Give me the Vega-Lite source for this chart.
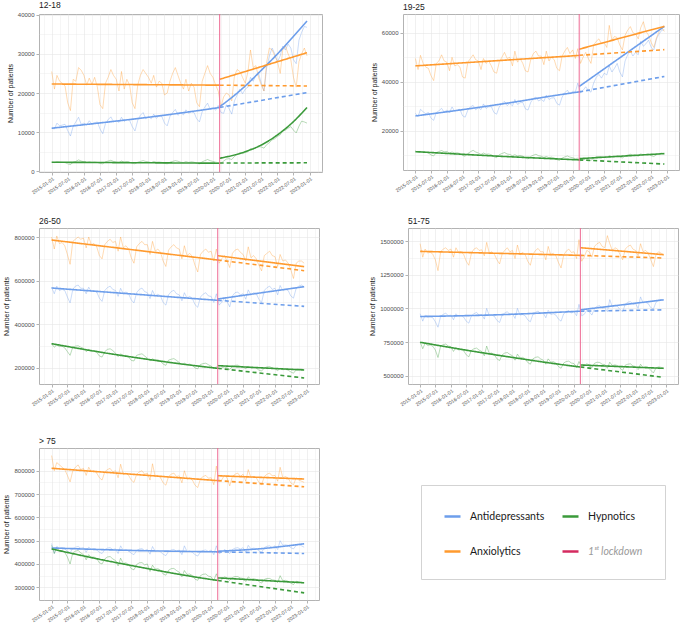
{"$schema":"https://vega.github.io/schema/vega-lite/v6.json","padding":{"left":2,"top":0,"right":2,"bottom":0},"background":"white",
"config":{"view":{"stroke":"#b3b3b3","strokeWidth":1},"axis":{"domain":false,"tickColor":"#b3b3b3","tickSize":3,"gridColor":"#e6e6e6","labelColor":"#4d4d4d","labelFont":"Liberation Sans","labelFontSize":6,"labelPadding":2,"labelOverlap":false,"titleFont":"Liberation Sans","titleFontSize":7,"titleFontWeight":"normal","titleColor":"#1a1a1a","titlePadding":4},"title":{"anchor":"start","frame":"group","font":"Liberation Sans","fontSize":8.5,"fontWeight":"normal","color":"#1a1a1a","offset":2}},
"datasets":{
"ld":[{"t":"2020-03-17"}],
"p1":[
{"t":"2015-01","A":11000,"X":25500,"H":2300},{"t":"2015-02","A":10800,"X":21000,"H":2200},{"t":"2015-03","A":12300,"X":24500,"H":2400},{"t":"2015-04","A":11600,"X":23000,"H":2300},{"t":"2015-05","A":11800,"X":22500,"H":2250},{"t":"2015-06","A":12000,"X":21800,"H":2200},{"t":"2015-07","A":10400,"X":17500,"H":1900},{"t":"2015-08","A":9000,"X":15500,"H":1700},{"t":"2015-09","A":11500,"X":23500,"H":2300},{"t":"2015-10","A":12600,"X":23000,"H":2500},{"t":"2015-11","A":13800,"X":26500,"H":2900},{"t":"2015-12","A":12000,"X":25800,"H":2600},
{"t":"2016-01","A":12300,"X":24500,"H":2400},{"t":"2016-02","A":11800,"X":22000,"H":2300},{"t":"2016-03","A":12900,"X":23800,"H":2450},{"t":"2016-04","A":12000,"X":22200,"H":2300},{"t":"2016-05","A":12400,"X":24000,"H":2350},{"t":"2016-06","A":12600,"X":21500,"H":2250},{"t":"2016-07","A":10800,"X":17000,"H":2000},{"t":"2016-08","A":9600,"X":16000,"H":1900},{"t":"2016-09","A":12200,"X":22500,"H":2400},{"t":"2016-10","A":13200,"X":24000,"H":2600},{"t":"2016-11","A":13900,"X":26000,"H":2800},{"t":"2016-12","A":12600,"X":24500,"H":2500},
{"t":"2017-01","A":13000,"X":23500,"H":2300},{"t":"2017-02","A":12500,"X":20500,"H":2200},{"t":"2017-03","A":13800,"X":25500,"H":2600},{"t":"2017-04","A":12700,"X":21000,"H":2300},{"t":"2017-05","A":13300,"X":23500,"H":2400},{"t":"2017-06","A":13000,"X":22000,"H":2300},{"t":"2017-07","A":11400,"X":17500,"H":2000},{"t":"2017-08","A":10300,"X":16000,"H":1900},{"t":"2017-09","A":13000,"X":22000,"H":2300},{"t":"2017-10","A":14300,"X":24500,"H":2500},{"t":"2017-11","A":15000,"X":26000,"H":2700},{"t":"2017-12","A":13400,"X":25000,"H":2500},
{"t":"2018-01","A":14000,"X":24000,"H":2400},{"t":"2018-02","A":13400,"X":22500,"H":2200},{"t":"2018-03","A":14600,"X":24500,"H":2500},{"t":"2018-04","A":13500,"X":21500,"H":2300},{"t":"2018-05","A":14200,"X":23000,"H":2350},{"t":"2018-06","A":14000,"X":22500,"H":2250},{"t":"2018-07","A":12300,"X":19500,"H":2000},{"t":"2018-08","A":11600,"X":20000,"H":1900},{"t":"2018-09","A":14000,"X":23000,"H":2300},{"t":"2018-10","A":15000,"X":25000,"H":2500},{"t":"2018-11","A":15800,"X":26500,"H":2700},{"t":"2018-12","A":14300,"X":24500,"H":2550},
{"t":"2019-01","A":15000,"X":22500,"H":2300},{"t":"2019-02","A":14400,"X":21000,"H":2200},{"t":"2019-03","A":15700,"X":23500,"H":2450},{"t":"2019-04","A":14800,"X":20500,"H":2250},{"t":"2019-05","A":15300,"X":22500,"H":2400},{"t":"2019-06","A":15000,"X":21500,"H":2300},{"t":"2019-07","A":13400,"X":17500,"H":2000},{"t":"2019-08","A":12600,"X":16500,"H":1900},{"t":"2019-09","A":15200,"X":23000,"H":2400},{"t":"2019-10","A":16400,"X":25000,"H":2700},{"t":"2019-11","A":17400,"X":27000,"H":3000},{"t":"2019-12","A":15800,"X":25000,"H":2700},
{"t":"2020-01","A":16200,"X":24000,"H":2500},{"t":"2020-02","A":15600,"X":22000,"H":2300},{"t":"2020-03","A":16800,"X":20500,"H":2200},{"t":"2020-04","A":15000,"X":16500,"H":2000},{"t":"2020-05","A":14800,"X":19000,"H":2600},{"t":"2020-06","A":17000,"X":20000,"H":3100},{"t":"2020-07","A":16000,"X":19500,"H":3200},{"t":"2020-08","A":14600,"X":18000,"H":3000},{"t":"2020-09","A":18000,"X":24500,"H":3800},{"t":"2020-10","A":19500,"X":26000,"H":4300},{"t":"2020-11","A":21000,"X":25500,"H":4600},{"t":"2020-12","A":19800,"X":24000,"H":4500},
{"t":"2021-01","A":21000,"X":22500,"H":4800},{"t":"2021-02","A":21500,"X":25500,"H":5000},{"t":"2021-03","A":24000,"X":31000,"H":5800},{"t":"2021-04","A":23000,"X":26500,"H":5600},{"t":"2021-05","A":24500,"X":27000,"H":6000},{"t":"2021-06","A":25000,"X":24000,"H":6300},{"t":"2021-07","A":22500,"X":22000,"H":6200},{"t":"2021-08","A":20500,"X":20500,"H":5900},{"t":"2021-09","A":26500,"X":28000,"H":6800},{"t":"2021-10","A":29500,"X":31500,"H":7300},{"t":"2021-11","A":31500,"X":31000,"H":8000},{"t":"2021-12","A":30000,"X":29500,"H":8300},
{"t":"2022-01","A":28000,"X":28000,"H":8900},{"t":"2022-02","A":29500,"X":25000,"H":9300},{"t":"2022-03","A":32000,"X":31000,"H":10300},{"t":"2022-04","A":31000,"X":32000,"H":10500},{"t":"2022-05","A":32500,"X":30000,"H":11000},{"t":"2022-06","A":31500,"X":28500,"H":11400},{"t":"2022-07","A":28500,"X":24000,"H":10500},{"t":"2022-08","A":27500,"X":21500,"H":9800},{"t":"2022-09","A":33500,"X":28000,"H":11500},{"t":"2022-10","A":35500,"X":30000,"H":12800},{"t":"2022-11","A":37000,"X":31500,"H":12600},{"t":"2022-12","A":36800,"X":29500,"H":12300}],
"p2":[
{"t":"2015-01","A":27200,"X":49500,"H":11800},{"t":"2015-02","A":25800,"X":45000,"H":11200},{"t":"2015-03","A":28800,"X":50800,"H":11600},{"t":"2015-04","A":27800,"X":47500,"H":11400},{"t":"2015-05","A":27000,"X":46000,"H":11300},{"t":"2015-06","A":27500,"X":45500,"H":11000},{"t":"2015-07","A":25200,"X":42500,"H":10200},{"t":"2015-08","A":24300,"X":40500,"H":9800},{"t":"2015-09","A":27500,"X":47500,"H":11200},{"t":"2015-10","A":28200,"X":48500,"H":11600},{"t":"2015-11","A":29200,"X":51000,"H":12000},{"t":"2015-12","A":27600,"X":48500,"H":11500},
{"t":"2016-01","A":28500,"X":48000,"H":11600},{"t":"2016-02","A":27400,"X":44500,"H":11000},{"t":"2016-03","A":29800,"X":50000,"H":11400},{"t":"2016-04","A":28000,"X":46500,"H":11000},{"t":"2016-05","A":28600,"X":47000,"H":11100},{"t":"2016-06","A":28800,"X":46000,"H":10800},{"t":"2016-07","A":26200,"X":42000,"H":10000},{"t":"2016-08","A":25600,"X":41500,"H":9700},{"t":"2016-09","A":28500,"X":48000,"H":10800},{"t":"2016-10","A":29800,"X":49500,"H":11500},{"t":"2016-11","A":30400,"X":51000,"H":12100},{"t":"2016-12","A":28600,"X":49000,"H":11400},
{"t":"2017-01","A":29500,"X":48500,"H":11000},{"t":"2017-02","A":28700,"X":45000,"H":10400},{"t":"2017-03","A":31000,"X":49500,"H":11000},{"t":"2017-04","A":29200,"X":47500,"H":10500},{"t":"2017-05","A":29800,"X":48500,"H":10600},{"t":"2017-06","A":29900,"X":46500,"H":10300},{"t":"2017-07","A":27500,"X":44000,"H":9500},{"t":"2017-08","A":26800,"X":43500,"H":9100},{"t":"2017-09","A":29800,"X":48000,"H":10300},{"t":"2017-10","A":31200,"X":50000,"H":10800},{"t":"2017-11","A":32000,"X":52000,"H":11200},{"t":"2017-12","A":30300,"X":49500,"H":10600},
{"t":"2018-01","A":31200,"X":50000,"H":10400},{"t":"2018-02","A":30200,"X":46500,"H":9900},{"t":"2018-03","A":32800,"X":52500,"H":10300},{"t":"2018-04","A":30800,"X":48000,"H":9800},{"t":"2018-05","A":31500,"X":49500,"H":10000},{"t":"2018-06","A":31600,"X":47500,"H":9700},{"t":"2018-07","A":29000,"X":44500,"H":9000},{"t":"2018-08","A":28500,"X":44000,"H":8600},{"t":"2018-09","A":31600,"X":49000,"H":9600},{"t":"2018-10","A":33200,"X":51500,"H":10100},{"t":"2018-11","A":33800,"X":52500,"H":10500},{"t":"2018-12","A":32200,"X":50500,"H":9900},
{"t":"2019-01","A":32800,"X":50500,"H":9700},{"t":"2019-02","A":32000,"X":47000,"H":9200},{"t":"2019-03","A":34600,"X":52500,"H":9600},{"t":"2019-04","A":32800,"X":48500,"H":9100},{"t":"2019-05","A":33400,"X":50000,"H":9300},{"t":"2019-06","A":33500,"X":49000,"H":9000},{"t":"2019-07","A":31200,"X":45500,"H":8300},{"t":"2019-08","A":30500,"X":44500,"H":8000},{"t":"2019-09","A":33800,"X":50500,"H":8900},{"t":"2019-10","A":35500,"X":52500,"H":9400},{"t":"2019-11","A":36600,"X":54000,"H":9800},{"t":"2019-12","A":35000,"X":51500,"H":9300},
{"t":"2020-01","A":36200,"X":53000,"H":9100},{"t":"2020-02","A":35800,"X":49500,"H":8700},{"t":"2020-03","A":39500,"X":53500,"H":8900},{"t":"2020-04","A":35500,"X":47500,"H":7800},{"t":"2020-05","A":36500,"X":50000,"H":8200},{"t":"2020-06","A":38000,"X":52000,"H":8600},{"t":"2020-07","A":36500,"X":49500,"H":8300},{"t":"2020-08","A":35800,"X":47500,"H":8000},{"t":"2020-09","A":39500,"X":55000,"H":8900},{"t":"2020-10","A":41800,"X":56500,"H":9400},{"t":"2020-11","A":43000,"X":57500,"H":9600},{"t":"2020-12","A":41500,"X":55500,"H":9300},
{"t":"2021-01","A":43500,"X":56000,"H":9300},{"t":"2021-02","A":42800,"X":54000,"H":9100},{"t":"2021-03","A":46500,"X":63000,"H":9900},{"t":"2021-04","A":44000,"X":57000,"H":9500},{"t":"2021-05","A":45500,"X":58500,"H":9600},{"t":"2021-06","A":47500,"X":58000,"H":9700},{"t":"2021-07","A":44000,"X":55000,"H":9300},{"t":"2021-08","A":42000,"X":53000,"H":9000},{"t":"2021-09","A":48500,"X":59000,"H":9800},{"t":"2021-10","A":51000,"X":61000,"H":10200},{"t":"2021-11","A":52500,"X":62500,"H":10500},{"t":"2021-12","A":50500,"X":60000,"H":10100},
{"t":"2022-01","A":52000,"X":59500,"H":10000},{"t":"2022-02","A":51000,"X":57500,"H":9700},{"t":"2022-03","A":56500,"X":62000,"H":10600},{"t":"2022-04","A":54500,"X":64500,"H":10300},{"t":"2022-05","A":55500,"X":60500,"H":10400},{"t":"2022-06","A":57000,"X":59000,"H":10500},{"t":"2022-07","A":54000,"X":56000,"H":9900},{"t":"2022-08","A":53000,"X":54000,"H":9600},{"t":"2022-09","A":57500,"X":58000,"H":10300},{"t":"2022-10","A":59500,"X":60500,"H":10700},{"t":"2022-11","A":61000,"X":62000,"H":11000},{"t":"2022-12","A":61200,"X":60500,"H":10700}],
"p3":[
{"t":"2015-01","A":570000,"X":800000,"H":312000},{"t":"2015-02","A":540000,"X":745000,"H":295000},{"t":"2015-03","A":575000,"X":805000,"H":305000},{"t":"2015-04","A":555000,"X":770000,"H":298000},{"t":"2015-05","A":560000,"X":775000,"H":300000},{"t":"2015-06","A":555000,"X":760000,"H":292000},{"t":"2015-07","A":525000,"X":720000,"H":275000},{"t":"2015-08","A":498000,"X":675000,"H":258000},{"t":"2015-09","A":560000,"X":780000,"H":296000},{"t":"2015-10","A":575000,"X":790000,"H":300000},{"t":"2015-11","A":580000,"X":800000,"H":302000},{"t":"2015-12","A":565000,"X":790000,"H":295000},
{"t":"2016-01","A":565000,"X":795000,"H":290000},{"t":"2016-02","A":540000,"X":750000,"H":275000},{"t":"2016-03","A":570000,"X":800000,"H":285000},{"t":"2016-04","A":550000,"X":765000,"H":278000},{"t":"2016-05","A":555000,"X":770000,"H":280000},{"t":"2016-06","A":548000,"X":755000,"H":272000},{"t":"2016-07","A":520000,"X":715000,"H":255000},{"t":"2016-08","A":505000,"X":700000,"H":250000},{"t":"2016-09","A":555000,"X":765000,"H":275000},{"t":"2016-10","A":568000,"X":780000,"H":285000},{"t":"2016-11","A":575000,"X":790000,"H":288000},{"t":"2016-12","A":560000,"X":775000,"H":280000},
{"t":"2017-01","A":555000,"X":780000,"H":268000},{"t":"2017-02","A":528000,"X":735000,"H":252000},{"t":"2017-03","A":565000,"X":800000,"H":265000},{"t":"2017-04","A":540000,"X":750000,"H":256000},{"t":"2017-05","A":548000,"X":760000,"H":258000},{"t":"2017-06","A":540000,"X":745000,"H":250000},{"t":"2017-07","A":512000,"X":705000,"H":235000},{"t":"2017-08","A":498000,"X":680000,"H":232000},{"t":"2017-09","A":545000,"X":755000,"H":258000},{"t":"2017-10","A":560000,"X":770000,"H":262000},{"t":"2017-11","A":566000,"X":780000,"H":265000},{"t":"2017-12","A":550000,"X":765000,"H":255000},
{"t":"2018-01","A":545000,"X":765000,"H":245000},{"t":"2018-02","A":518000,"X":720000,"H":232000},{"t":"2018-03","A":555000,"X":780000,"H":242000},{"t":"2018-04","A":530000,"X":735000,"H":235000},{"t":"2018-05","A":538000,"X":745000,"H":238000},{"t":"2018-06","A":530000,"X":730000,"H":230000},{"t":"2018-07","A":500000,"X":690000,"H":218000},{"t":"2018-08","A":488000,"X":665000,"H":212000},{"t":"2018-09","A":535000,"X":740000,"H":236000},{"t":"2018-10","A":550000,"X":755000,"H":240000},{"t":"2018-11","A":556000,"X":765000,"H":243000},{"t":"2018-12","A":540000,"X":750000,"H":235000},
{"t":"2019-01","A":535000,"X":745000,"H":225000},{"t":"2019-02","A":508000,"X":700000,"H":214000},{"t":"2019-03","A":545000,"X":760000,"H":222000},{"t":"2019-04","A":520000,"X":715000,"H":215000},{"t":"2019-05","A":528000,"X":725000,"H":218000},{"t":"2019-06","A":518000,"X":710000,"H":212000},{"t":"2019-07","A":490000,"X":670000,"H":200000},{"t":"2019-08","A":478000,"X":640000,"H":196000},{"t":"2019-09","A":525000,"X":720000,"H":216000},{"t":"2019-10","A":538000,"X":735000,"H":220000},{"t":"2019-11","A":545000,"X":745000,"H":222000},{"t":"2019-12","A":530000,"X":730000,"H":215000},
{"t":"2020-01","A":528000,"X":735000,"H":208000},{"t":"2020-02","A":500000,"X":690000,"H":198000},{"t":"2020-03","A":540000,"X":745000,"H":205000},{"t":"2020-04","A":488000,"X":680000,"H":195000},{"t":"2020-05","A":500000,"X":700000,"H":200000},{"t":"2020-06","A":520000,"X":715000,"H":205000},{"t":"2020-07","A":505000,"X":690000,"H":200000},{"t":"2020-08","A":480000,"X":660000,"H":193000},{"t":"2020-09","A":530000,"X":725000,"H":208000},{"t":"2020-10","A":545000,"X":740000,"H":212000},{"t":"2020-11","A":548000,"X":745000,"H":213000},{"t":"2020-12","A":535000,"X":730000,"H":208000},
{"t":"2021-01","A":540000,"X":720000,"H":205000},{"t":"2021-02","A":515000,"X":690000,"H":196000},{"t":"2021-03","A":558000,"X":755000,"H":208000},{"t":"2021-04","A":535000,"X":705000,"H":200000},{"t":"2021-05","A":545000,"X":715000,"H":202000},{"t":"2021-06","A":540000,"X":700000,"H":200000},{"t":"2021-07","A":515000,"X":670000,"H":190000},{"t":"2021-08","A":500000,"X":645000,"H":186000},{"t":"2021-09","A":555000,"X":715000,"H":200000},{"t":"2021-10","A":568000,"X":725000,"H":205000},{"t":"2021-11","A":575000,"X":735000,"H":206000},{"t":"2021-12","A":560000,"X":715000,"H":200000},
{"t":"2022-01","A":565000,"X":710000,"H":196000},{"t":"2022-02","A":535000,"X":665000,"H":188000},{"t":"2022-03","A":578000,"X":720000,"H":198000},{"t":"2022-04","A":555000,"X":690000,"H":192000},{"t":"2022-05","A":560000,"X":695000,"H":194000},{"t":"2022-06","A":555000,"X":680000,"H":190000},{"t":"2022-07","A":530000,"X":650000,"H":182000},{"t":"2022-08","A":520000,"X":610000,"H":176000},{"t":"2022-09","A":565000,"X":680000,"H":192000},{"t":"2022-10","A":575000,"X":690000,"H":196000},{"t":"2022-11","A":580000,"X":690000,"H":195000},{"t":"2022-12","A":572000,"X":680000,"H":192000}],
"p4":[
{"t":"2015-01","A":960000,"X":1480000,"H":750000},{"t":"2015-02","A":905000,"X":1380000,"H":700000},{"t":"2015-03","A":950000,"X":1440000,"H":740000},{"t":"2015-04","A":935000,"X":1410000,"H":725000},{"t":"2015-05","A":940000,"X":1420000,"H":728000},{"t":"2015-06","A":930000,"X":1400000,"H":718000},{"t":"2015-07","A":900000,"X":1360000,"H":690000},{"t":"2015-08","A":860000,"X":1280000,"H":635000},{"t":"2015-09","A":940000,"X":1420000,"H":720000},{"t":"2015-10","A":955000,"X":1440000,"H":730000},{"t":"2015-11","A":965000,"X":1450000,"H":735000},{"t":"2015-12","A":945000,"X":1430000,"H":720000},
{"t":"2016-01","A":950000,"X":1440000,"H":715000},{"t":"2016-02","A":915000,"X":1380000,"H":680000},{"t":"2016-03","A":960000,"X":1450000,"H":710000},{"t":"2016-04","A":940000,"X":1415000,"H":690000},{"t":"2016-05","A":945000,"X":1420000,"H":695000},{"t":"2016-06","A":935000,"X":1400000,"H":685000},{"t":"2016-07","A":905000,"X":1350000,"H":655000},{"t":"2016-08","A":890000,"X":1320000,"H":640000},{"t":"2016-09","A":945000,"X":1410000,"H":688000},{"t":"2016-10","A":960000,"X":1440000,"H":700000},{"t":"2016-11","A":970000,"X":1450000,"H":705000},{"t":"2016-12","A":950000,"X":1430000,"H":690000},
{"t":"2017-01","A":955000,"X":1435000,"H":680000},{"t":"2017-02","A":920000,"X":1390000,"H":648000},{"t":"2017-03","A":1000000,"X":1490000,"H":720000},{"t":"2017-04","A":945000,"X":1410000,"H":665000},{"t":"2017-05","A":950000,"X":1420000,"H":668000},{"t":"2017-06","A":940000,"X":1400000,"H":655000},{"t":"2017-07","A":910000,"X":1360000,"H":625000},{"t":"2017-08","A":895000,"X":1330000,"H":612000},{"t":"2017-09","A":950000,"X":1405000,"H":655000},{"t":"2017-10","A":965000,"X":1430000,"H":668000},{"t":"2017-11","A":975000,"X":1450000,"H":672000},{"t":"2017-12","A":955000,"X":1420000,"H":658000},
{"t":"2018-01","A":960000,"X":1430000,"H":648000},{"t":"2018-02","A":925000,"X":1370000,"H":615000},{"t":"2018-03","A":1000000,"X":1470000,"H":660000},{"t":"2018-04","A":950000,"X":1400000,"H":632000},{"t":"2018-05","A":955000,"X":1415000,"H":636000},{"t":"2018-06","A":945000,"X":1400000,"H":625000},{"t":"2018-07","A":915000,"X":1350000,"H":598000},{"t":"2018-08","A":900000,"X":1320000,"H":585000},{"t":"2018-09","A":955000,"X":1400000,"H":625000},{"t":"2018-10","A":970000,"X":1430000,"H":636000},{"t":"2018-11","A":980000,"X":1445000,"H":640000},{"t":"2018-12","A":960000,"X":1420000,"H":625000},
{"t":"2019-01","A":965000,"X":1420000,"H":615000},{"t":"2019-02","A":930000,"X":1360000,"H":585000},{"t":"2019-03","A":985000,"X":1460000,"H":625000},{"t":"2019-04","A":955000,"X":1395000,"H":600000},{"t":"2019-05","A":960000,"X":1410000,"H":604000},{"t":"2019-06","A":950000,"X":1390000,"H":594000},{"t":"2019-07","A":920000,"X":1340000,"H":568000},{"t":"2019-08","A":905000,"X":1300000,"H":555000},{"t":"2019-09","A":960000,"X":1395000,"H":594000},{"t":"2019-10","A":975000,"X":1425000,"H":605000},{"t":"2019-11","A":985000,"X":1440000,"H":608000},{"t":"2019-12","A":965000,"X":1415000,"H":594000},
{"t":"2020-01","A":975000,"X":1420000,"H":590000},{"t":"2020-02","A":945000,"X":1370000,"H":560000},{"t":"2020-03","A":1030000,"X":1510000,"H":605000},{"t":"2020-04","A":945000,"X":1350000,"H":565000},{"t":"2020-05","A":955000,"X":1380000,"H":572000},{"t":"2020-06","A":985000,"X":1430000,"H":588000},{"t":"2020-07","A":975000,"X":1420000,"H":580000},{"t":"2020-08","A":950000,"X":1380000,"H":560000},{"t":"2020-09","A":1000000,"X":1460000,"H":592000},{"t":"2020-10","A":1015000,"X":1480000,"H":600000},{"t":"2020-11","A":1020000,"X":1490000,"H":598000},{"t":"2020-12","A":1000000,"X":1460000,"H":585000},
{"t":"2021-01","A":1005000,"X":1450000,"H":582000},{"t":"2021-02","A":975000,"X":1540000,"H":555000},{"t":"2021-03","A":1065000,"X":1480000,"H":600000},{"t":"2021-04","A":1010000,"X":1430000,"H":575000},{"t":"2021-05","A":1020000,"X":1450000,"H":580000},{"t":"2021-06","A":1015000,"X":1440000,"H":575000},{"t":"2021-07","A":990000,"X":1400000,"H":555000},{"t":"2021-08","A":975000,"X":1360000,"H":540000},{"t":"2021-09","A":1030000,"X":1440000,"H":578000},{"t":"2021-10","A":1045000,"X":1460000,"H":585000},{"t":"2021-11","A":1050000,"X":1470000,"H":588000},{"t":"2021-12","A":1030000,"X":1440000,"H":572000},
{"t":"2022-01","A":1035000,"X":1430000,"H":568000},{"t":"2022-02","A":1000000,"X":1390000,"H":545000},{"t":"2022-03","A":1085000,"X":1480000,"H":585000},{"t":"2022-04","A":1040000,"X":1420000,"H":560000},{"t":"2022-05","A":1045000,"X":1430000,"H":565000},{"t":"2022-06","A":1035000,"X":1410000,"H":560000},{"t":"2022-07","A":1005000,"X":1360000,"H":540000},{"t":"2022-08","A":995000,"X":1310000,"H":520000},{"t":"2022-09","A":1045000,"X":1400000,"H":558000},{"t":"2022-10","A":1060000,"X":1420000,"H":565000},{"t":"2022-11","A":1065000,"X":1410000,"H":562000},{"t":"2022-12","A":1060000,"X":1395000,"H":555000}],
"p5":[
{"t":"2015-01","A":488000,"X":865000,"H":480000},{"t":"2015-02","A":445000,"X":800000,"H":445000},{"t":"2015-03","A":475000,"X":835000,"H":470000},{"t":"2015-04","A":468000,"X":825000,"H":455000},{"t":"2015-05","A":470000,"X":815000,"H":458000},{"t":"2015-06","A":465000,"X":805000,"H":450000},{"t":"2015-07","A":455000,"X":780000,"H":430000},{"t":"2015-08","A":448000,"X":752000,"H":400000},{"t":"2015-09","A":468000,"X":800000,"H":448000},{"t":"2015-10","A":472000,"X":815000,"H":455000},{"t":"2015-11","A":475000,"X":825000,"H":458000},{"t":"2015-12","A":468000,"X":805000,"H":448000},
{"t":"2016-01","A":470000,"X":810000,"H":440000},{"t":"2016-02","A":450000,"X":780000,"H":418000},{"t":"2016-03","A":472000,"X":815000,"H":440000},{"t":"2016-04","A":462000,"X":795000,"H":428000},{"t":"2016-05","A":465000,"X":800000,"H":430000},{"t":"2016-06","A":460000,"X":790000,"H":424000},{"t":"2016-07","A":450000,"X":770000,"H":405000},{"t":"2016-08","A":445000,"X":760000,"H":400000},{"t":"2016-09","A":462000,"X":795000,"H":422000},{"t":"2016-10","A":468000,"X":805000,"H":430000},{"t":"2016-11","A":470000,"X":810000,"H":432000},{"t":"2016-12","A":462000,"X":795000,"H":422000},
{"t":"2017-01","A":465000,"X":800000,"H":415000},{"t":"2017-02","A":445000,"X":770000,"H":392000},{"t":"2017-03","A":478000,"X":828000,"H":425000},{"t":"2017-04","A":458000,"X":785000,"H":402000},{"t":"2017-05","A":462000,"X":790000,"H":405000},{"t":"2017-06","A":456000,"X":780000,"H":398000},{"t":"2017-07","A":446000,"X":760000,"H":380000},{"t":"2017-08","A":440000,"X":750000,"H":375000},{"t":"2017-09","A":458000,"X":785000,"H":398000},{"t":"2017-10","A":464000,"X":795000,"H":405000},{"t":"2017-11","A":466000,"X":800000,"H":406000},{"t":"2017-12","A":458000,"X":785000,"H":396000},
{"t":"2018-01","A":462000,"X":790000,"H":400000},{"t":"2018-02","A":442000,"X":760000,"H":368000},{"t":"2018-03","A":475000,"X":830000,"H":395000},{"t":"2018-04","A":455000,"X":775000,"H":378000},{"t":"2018-05","A":458000,"X":780000,"H":380000},{"t":"2018-06","A":452000,"X":770000,"H":374000},{"t":"2018-07","A":442000,"X":748000,"H":357000},{"t":"2018-08","A":436000,"X":738000,"H":352000},{"t":"2018-09","A":454000,"X":775000,"H":373000},{"t":"2018-10","A":460000,"X":785000,"H":380000},{"t":"2018-11","A":462000,"X":790000,"H":381000},{"t":"2018-12","A":455000,"X":775000,"H":372000},
{"t":"2019-01","A":460000,"X":778000,"H":365000},{"t":"2019-02","A":440000,"X":748000,"H":345000},{"t":"2019-03","A":478000,"X":800000,"H":372000},{"t":"2019-04","A":453000,"X":765000,"H":355000},{"t":"2019-05","A":456000,"X":770000,"H":357000},{"t":"2019-06","A":450000,"X":760000,"H":350000},{"t":"2019-07","A":440000,"X":738000,"H":335000},{"t":"2019-08","A":434000,"X":728000,"H":330000},{"t":"2019-09","A":452000,"X":765000,"H":350000},{"t":"2019-10","A":458000,"X":775000,"H":356000},{"t":"2019-11","A":460000,"X":780000,"H":357000},{"t":"2019-12","A":454000,"X":768000,"H":348000},
{"t":"2020-01","A":460000,"X":770000,"H":345000},{"t":"2020-02","A":440000,"X":740000,"H":330000},{"t":"2020-03","A":478000,"X":820000,"H":358000},{"t":"2020-04","A":445000,"X":755000,"H":328000},{"t":"2020-05","A":450000,"X":760000,"H":332000},{"t":"2020-06","A":462000,"X":780000,"H":345000},{"t":"2020-07","A":455000,"X":770000,"H":340000},{"t":"2020-08","A":445000,"X":735000,"H":330000},{"t":"2020-09","A":462000,"X":775000,"H":342000},{"t":"2020-10","A":468000,"X":785000,"H":346000},{"t":"2020-11","A":470000,"X":790000,"H":346000},{"t":"2020-12","A":464000,"X":775000,"H":340000},
{"t":"2021-01","A":470000,"X":785000,"H":338000},{"t":"2021-02","A":450000,"X":755000,"H":325000},{"t":"2021-03","A":480000,"X":805000,"H":345000},{"t":"2021-04","A":465000,"X":770000,"H":335000},{"t":"2021-05","A":468000,"X":775000,"H":337000},{"t":"2021-06","A":466000,"X":770000,"H":334000},{"t":"2021-07","A":456000,"X":750000,"H":325000},{"t":"2021-08","A":450000,"X":740000,"H":318000},{"t":"2021-09","A":470000,"X":775000,"H":334000},{"t":"2021-10","A":476000,"X":785000,"H":338000},{"t":"2021-11","A":478000,"X":790000,"H":338000},{"t":"2021-12","A":470000,"X":778000,"H":332000},
{"t":"2022-01","A":478000,"X":780000,"H":330000},{"t":"2022-02","A":462000,"X":755000,"H":320000},{"t":"2022-03","A":500000,"X":815000,"H":350000},{"t":"2022-04","A":480000,"X":770000,"H":328000},{"t":"2022-05","A":482000,"X":775000,"H":330000},{"t":"2022-06","A":480000,"X":768000,"H":326000},{"t":"2022-07","A":470000,"X":748000,"H":318000},{"t":"2022-08","A":465000,"X":740000,"H":312000},{"t":"2022-09","A":480000,"X":770000,"H":326000},{"t":"2022-10","A":484000,"X":760000,"H":324000},{"t":"2022-11","A":478000,"X":755000,"H":320000},{"t":"2022-12","A":472000,"X":750000,"H":318000}],
"tr":[
{"g":"12-18","d":"A","s":"pre","t":"2015-01","v":11000},{"g":"12-18","d":"A","s":"pre","t":"2016-07","v":12350},{"g":"12-18","d":"A","s":"pre","t":"2018-01","v":13800},{"g":"12-18","d":"A","s":"pre","t":"2019-07","v":15450},{"g":"12-18","d":"A","s":"pre","t":"2020-03-17","v":16300},
{"g":"12-18","d":"A","s":"post","t":"2020-03-17","v":16500},{"g":"12-18","d":"A","s":"post","t":"2020-07","v":18300},{"g":"12-18","d":"A","s":"post","t":"2021-01","v":21800},{"g":"12-18","d":"A","s":"post","t":"2021-07","v":25800},{"g":"12-18","d":"A","s":"post","t":"2022-01","v":30000},{"g":"12-18","d":"A","s":"post","t":"2022-07","v":34500},{"g":"12-18","d":"A","s":"post","t":"2022-12","v":38400},
{"g":"12-18","d":"A","s":"cf","t":"2020-03-17","v":16300},{"g":"12-18","d":"A","s":"cf","t":"2022-12","v":20100},
{"g":"12-18","d":"X","s":"pre","t":"2015-01","v":22300},{"g":"12-18","d":"X","s":"pre","t":"2020-03-17","v":22000},
{"g":"12-18","d":"X","s":"post","t":"2020-03-17","v":23500},{"g":"12-18","d":"X","s":"post","t":"2022-12","v":30300},
{"g":"12-18","d":"X","s":"cf","t":"2020-03-17","v":22000},{"g":"12-18","d":"X","s":"cf","t":"2022-12","v":21800},
{"g":"12-18","d":"H","s":"pre","t":"2015-01","v":2300},{"g":"12-18","d":"H","s":"pre","t":"2020-03-17","v":2050},
{"g":"12-18","d":"H","s":"post","t":"2020-03-17","v":3300},{"g":"12-18","d":"H","s":"post","t":"2021-01","v":5000},{"g":"12-18","d":"H","s":"post","t":"2021-07","v":6700},{"g":"12-18","d":"H","s":"post","t":"2022-01","v":9300},{"g":"12-18","d":"H","s":"post","t":"2022-07","v":12700},{"g":"12-18","d":"H","s":"post","t":"2022-12","v":16300},
{"g":"12-18","d":"H","s":"cf","t":"2020-03-17","v":2100},{"g":"12-18","d":"H","s":"cf","t":"2022-12","v":2150},
{"g":"19-25","d":"A","s":"pre","t":"2015-01","v":26100},{"g":"19-25","d":"A","s":"pre","t":"2016-07","v":28660},{"g":"19-25","d":"A","s":"pre","t":"2018-01","v":31470},{"g":"19-25","d":"A","s":"pre","t":"2019-07","v":34560},{"g":"19-25","d":"A","s":"pre","t":"2020-03-17","v":35900},
{"g":"19-25","d":"A","s":"post","t":"2020-03-17","v":38100},{"g":"19-25","d":"A","s":"post","t":"2022-12","v":62600},
{"g":"19-25","d":"A","s":"cf","t":"2020-03-17","v":35900},{"g":"19-25","d":"A","s":"cf","t":"2022-12","v":42200},
{"g":"19-25","d":"X","s":"pre","t":"2015-01","v":46500},{"g":"19-25","d":"X","s":"pre","t":"2020-03-17","v":50750},
{"g":"19-25","d":"X","s":"post","t":"2020-03-17","v":53300},{"g":"19-25","d":"X","s":"post","t":"2022-12","v":62600},
{"g":"19-25","d":"X","s":"cf","t":"2020-03-17","v":50800},{"g":"19-25","d":"X","s":"cf","t":"2022-12","v":53100},
{"g":"19-25","d":"H","s":"pre","t":"2015-01","v":11560},{"g":"19-25","d":"H","s":"pre","t":"2017-07","v":9800},{"g":"19-25","d":"H","s":"pre","t":"2020-03-17","v":8200},
{"g":"19-25","d":"H","s":"post","t":"2020-03-17","v":8700},{"g":"19-25","d":"H","s":"post","t":"2022-12","v":10750},
{"g":"19-25","d":"H","s":"cf","t":"2020-03-17","v":8200},{"g":"19-25","d":"H","s":"cf","t":"2022-12","v":6500},
{"g":"26-50","d":"A","s":"pre","t":"2015-01","v":566400},{"g":"26-50","d":"A","s":"pre","t":"2020-03-17","v":509900},
{"g":"26-50","d":"A","s":"post","t":"2020-03-17","v":516000},{"g":"26-50","d":"A","s":"post","t":"2022-12","v":572500},
{"g":"26-50","d":"A","s":"cf","t":"2020-03-17","v":510000},{"g":"26-50","d":"A","s":"cf","t":"2022-12","v":482400},
{"g":"26-50","d":"X","s":"pre","t":"2015-01","v":786300},{"g":"26-50","d":"X","s":"pre","t":"2020-03-17","v":694700},
{"g":"26-50","d":"X","s":"post","t":"2020-03-17","v":714500},{"g":"26-50","d":"X","s":"post","t":"2022-12","v":664100},
{"g":"26-50","d":"X","s":"cf","t":"2020-03-17","v":694700},{"g":"26-50","d":"X","s":"cf","t":"2022-12","v":645800},
{"g":"26-50","d":"H","s":"pre","t":"2015-01","v":311400},{"g":"26-50","d":"H","s":"pre","t":"2016-07","v":273300},{"g":"26-50","d":"H","s":"pre","t":"2018-01","v":239800},{"g":"26-50","d":"H","s":"pre","t":"2019-07","v":210500},{"g":"26-50","d":"H","s":"pre","t":"2020-03-17","v":198500},
{"g":"26-50","d":"H","s":"post","t":"2020-03-17","v":210700},{"g":"26-50","d":"H","s":"post","t":"2022-12","v":190800},
{"g":"26-50","d":"H","s":"cf","t":"2020-03-17","v":198500},{"g":"26-50","d":"H","s":"cf","t":"2022-12","v":154200},
{"g":"51-75","d":"A","s":"pre","t":"2015-01","v":939300},{"g":"51-75","d":"A","s":"pre","t":"2017-07","v":952000},{"g":"51-75","d":"A","s":"pre","t":"2020-03-17","v":979000},
{"g":"51-75","d":"A","s":"post","t":"2020-03-17","v":988900},{"g":"51-75","d":"A","s":"post","t":"2022-12","v":1063400},
{"g":"51-75","d":"A","s":"cf","t":"2020-03-17","v":979000},{"g":"51-75","d":"A","s":"cf","t":"2022-12","v":988900},
{"g":"51-75","d":"X","s":"pre","t":"2015-01","v":1423300},{"g":"51-75","d":"X","s":"pre","t":"2020-03-17","v":1393500},
{"g":"51-75","d":"X","s":"post","t":"2020-03-17","v":1450600},{"g":"51-75","d":"X","s":"post","t":"2022-12","v":1398500},
{"g":"51-75","d":"X","s":"cf","t":"2020-03-17","v":1393500},{"g":"51-75","d":"X","s":"cf","t":"2022-12","v":1373700},
{"g":"51-75","d":"H","s":"pre","t":"2015-01","v":748200},{"g":"51-75","d":"H","s":"pre","t":"2016-07","v":689500},{"g":"51-75","d":"H","s":"pre","t":"2018-01","v":635400},{"g":"51-75","d":"H","s":"pre","t":"2019-07","v":585500},{"g":"51-75","d":"H","s":"pre","t":"2020-03-17","v":564500},
{"g":"51-75","d":"H","s":"post","t":"2020-03-17","v":579400},{"g":"51-75","d":"H","s":"post","t":"2022-12","v":554600},
{"g":"51-75","d":"H","s":"cf","t":"2020-03-17","v":564500},{"g":"51-75","d":"H","s":"cf","t":"2022-12","v":487600},
{"g":"> 75","d":"A","s":"pre","t":"2015-01","v":468800},{"g":"> 75","d":"A","s":"pre","t":"2017-08","v":458000},{"g":"> 75","d":"A","s":"pre","t":"2020-03-17","v":452100},
{"g":"> 75","d":"A","s":"post","t":"2020-03-17","v":454800},{"g":"> 75","d":"A","s":"post","t":"2021-08","v":466000},{"g":"> 75","d":"A","s":"post","t":"2022-12","v":486900},
{"g":"> 75","d":"A","s":"cf","t":"2020-03-17","v":452100},{"g":"> 75","d":"A","s":"cf","t":"2022-12","v":445100},
{"g":"> 75","d":"X","s":"pre","t":"2015-01","v":810600},{"g":"> 75","d":"X","s":"pre","t":"2020-03-17","v":757600},
{"g":"> 75","d":"X","s":"post","t":"2020-03-17","v":778500},{"g":"> 75","d":"X","s":"post","t":"2022-12","v":764500},
{"g":"> 75","d":"X","s":"cf","t":"2020-03-17","v":757600},{"g":"> 75","d":"X","s":"cf","t":"2022-12","v":731000},
{"g":"> 75","d":"H","s":"pre","t":"2015-01","v":464600},{"g":"> 75","d":"H","s":"pre","t":"2016-07","v":420400},{"g":"> 75","d":"H","s":"pre","t":"2018-01","v":380500},{"g":"> 75","d":"H","s":"pre","t":"2019-07","v":344300},{"g":"> 75","d":"H","s":"pre","t":"2020-03-17","v":329300},
{"g":"> 75","d":"H","s":"post","t":"2020-03-17","v":340500},{"g":"> 75","d":"H","s":"post","t":"2022-12","v":319500},
{"g":"> 75","d":"H","s":"cf","t":"2020-03-17","v":329300},{"g":"> 75","d":"H","s":"cf","t":"2022-12","v":276300}]},
"spacing":28,
"vconcat":[
{"spacing":20,"vconcat":[
{"spacing":46,"hconcat":[
{"title":{"text":"12-18","frame":"group","anchor":"start"},"width":283,"height":158,
"encoding":{"x":{"field":"t","type":"temporal","title":null,"scale":{"type":"utc","domain":[{"year":2014,"month":8,"date":10,"utc":true},{"year":2023,"month":5,"date":20,"utc":true}]},"axis":{"tickCount":{"interval":"month","step":3},"labelExpr":"utcmonth(datum.value) % 6 == 0 ? utcFormat(datum.value, '%Y-%m-%d') : ''","labelAngle":-35,"labelAlign":"right","labelBaseline":"top","labelFontSize":5,"labelOverlap":false,"labelFlush":false,"labelBound":false,"labelPadding":1,"gridWidth":{"condition":{"test":"utcmonth(datum.value) % 6 == 0","value":0.6},"value":0.35},"tickOpacity":{"condition":{"test":"utcmonth(datum.value) % 6 == 0","value":1},"value":0}}}},
"layer":[
{"data":{"name":"p1"},"transform":[{"fold":["A","X","H"],"as":["d","v"]}],"mark":{"type":"line","strokeWidth":0.8,"opacity":0.45},
"encoding":{"y":{"field":"v","type":"quantitative","title":"Number of patients","scale":{"domain":[-200,40200],"nice":false,"zero":false},"axis":{"values":[0,5000,10000,15000,20000,25000,30000,35000,40000],"tickCount":100,"format":"d","labelOverlap":false,"labelExpr":"datum.value % 10000 == 0 ? datum.label : ''","gridWidth":{"condition":{"test":"datum.value % 10000 == 0","value":0.6},"value":0.35},"tickOpacity":{"condition":{"test":"datum.value % 10000 == 0","value":1},"value":0}}},
"color":{"field":"d","type":"nominal","scale":{"domain":["A","X","H","L"],"range":["#6d9eeb","#ff9a2e","#3a9a3a","#d42a5f"]},
"legend":{"orient":"none","legendX":382,"legendY":471,"columns":2,"title":null,"symbolType":"stroke","symbolSize":256,"symbolStrokeWidth":2.5,"symbolOpacity":1,"labelFont":"Lato","labelFontSize":10.5,"labelOffset":8,"rowPadding":20,"columnPadding":12,"padding":22,"strokeColor":"#d3d3d3","labelLimit":200,
"labelExpr":"datum.value == 'A' ? 'Antidepressants' : datum.value == 'H' ? 'Hypnotics' : datum.value == 'X' ? 'Anxiolytics' : '1ˢᵗ lockdown'",
"labelColor":{"expr":"datum.value == 'L' ? '#9a9a9a' : '#1a1a1a'"},"labelFontStyle":{"expr":"datum.value == 'L' ? 'italic' : 'normal'"},
"encode":{"symbols":{"update":{"opacity":{"value":1},"strokeOpacity":{"value":1}}}}}}}},
{"data":{"name":"tr"},"transform":[{"filter":"datum.g == '12-18'"}],"mark":{"type":"line","strokeWidth":1.6,"interpolate":"monotone"},
"encoding":{"y":{"field":"v","type":"quantitative","title":"Number of patients"},"color":{"field":"d","type":"nominal","scale":{"domain":["A","X","H","L"]}},"strokeDash":{"field":"s","type":"nominal","scale":{"domain":["pre","post","cf"],"range":[[1,0],[1,0],[4,3]]},"legend":null}}},
{"data":{"name":"ld"},"mark":{"type":"rule","color":"#ee6a94","strokeWidth":1}}]},
{"title":{"text":"19-25","frame":"group","anchor":"start"},"width":276,"height":156,
"encoding":{"x":{"field":"t","type":"temporal","title":null,"scale":{"type":"utc","domain":[{"year":2014,"month":8,"date":10,"utc":true},{"year":2023,"month":5,"date":20,"utc":true}]},"axis":{"tickCount":{"interval":"month","step":3},"labelExpr":"utcmonth(datum.value) % 6 == 0 ? utcFormat(datum.value, '%Y-%m-%d') : ''","labelAngle":-35,"labelAlign":"right","labelBaseline":"top","labelFontSize":5,"labelOverlap":false,"labelFlush":false,"labelBound":false,"labelPadding":1,"gridWidth":{"condition":{"test":"utcmonth(datum.value) % 6 == 0","value":0.6},"value":0.35},"tickOpacity":{"condition":{"test":"utcmonth(datum.value) % 6 == 0","value":1},"value":0}}}},
"layer":[
{"data":{"name":"p2"},"transform":[{"fold":["A","X","H"],"as":["d","v"]}],"mark":{"type":"line","strokeWidth":0.8,"opacity":0.45},
"encoding":{"y":{"field":"v","type":"quantitative","title":"Number of patients","scale":{"domain":[4080,67630],"nice":false,"zero":false},"axis":{"values":[10000,20000,30000,40000,50000,60000],"tickCount":100,"format":"d","labelOverlap":false,"labelExpr":"datum.value % 20000 == 0 ? datum.label : ''","gridWidth":{"condition":{"test":"datum.value % 20000 == 0","value":0.6},"value":0.35},"tickOpacity":{"condition":{"test":"datum.value % 20000 == 0","value":1},"value":0}}},"color":{"field":"d","type":"nominal","scale":{"domain":["A","X","H","L"]}}}},
{"data":{"name":"tr"},"transform":[{"filter":"datum.g == '19-25'"}],"mark":{"type":"line","strokeWidth":1.6,"interpolate":"monotone"},
"encoding":{"y":{"field":"v","type":"quantitative","title":"Number of patients"},"color":{"field":"d","type":"nominal","scale":{"domain":["A","X","H","L"]}},"strokeDash":{"field":"s","type":"nominal","scale":{"domain":["pre","post","cf"],"range":[[1,0],[1,0],[4,3]]},"legend":null}}},
{"data":{"name":"ld"},"mark":{"type":"rule","color":"#ee6a94","strokeWidth":1}}]}]},
{"spacing":48,"hconcat":[
{"title":{"text":"26-50","frame":"group","anchor":"start"},"width":280,"height":156,
"encoding":{"x":{"field":"t","type":"temporal","title":null,"scale":{"type":"utc","domain":[{"year":2014,"month":8,"date":10,"utc":true},{"year":2023,"month":5,"date":20,"utc":true}]},"axis":{"tickCount":{"interval":"month","step":3},"labelExpr":"utcmonth(datum.value) % 6 == 0 ? utcFormat(datum.value, '%Y-%m-%d') : ''","labelAngle":-35,"labelAlign":"right","labelBaseline":"top","labelFontSize":5,"labelOverlap":false,"labelFlush":false,"labelBound":false,"labelPadding":1,"gridWidth":{"condition":{"test":"utcmonth(datum.value) % 6 == 0","value":0.6},"value":0.35},"tickOpacity":{"condition":{"test":"utcmonth(datum.value) % 6 == 0","value":1},"value":0}}}},
"layer":[
{"data":{"name":"p3"},"transform":[{"fold":["A","X","H"],"as":["d","v"]}],"mark":{"type":"line","strokeWidth":0.8,"opacity":0.45},
"encoding":{"y":{"field":"v","type":"quantitative","title":"Number of patients","scale":{"domain":[126600,841300],"nice":false,"zero":false},"axis":{"values":[200000,300000,400000,500000,600000,700000,800000],"tickCount":100,"format":"d","labelOverlap":false,"labelExpr":"datum.value % 200000 == 0 ? datum.label : ''","gridWidth":{"condition":{"test":"datum.value % 200000 == 0","value":0.6},"value":0.35},"tickOpacity":{"condition":{"test":"datum.value % 200000 == 0","value":1},"value":0}}},"color":{"field":"d","type":"nominal","scale":{"domain":["A","X","H","L"]}}}},
{"data":{"name":"tr"},"transform":[{"filter":"datum.g == '26-50'"}],"mark":{"type":"line","strokeWidth":1.6,"interpolate":"monotone"},
"encoding":{"y":{"field":"v","type":"quantitative","title":"Number of patients"},"color":{"field":"d","type":"nominal","scale":{"domain":["A","X","H","L"]}},"strokeDash":{"field":"s","type":"nominal","scale":{"domain":["pre","post","cf"],"range":[[1,0],[1,0],[4,3]]},"legend":null}}},
{"data":{"name":"ld"},"mark":{"type":"rule","color":"#ee6a94","strokeWidth":1}}]},
{"title":{"text":"51-75","frame":"group","anchor":"start"},"width":270,"height":156,
"encoding":{"x":{"field":"t","type":"temporal","title":null,"scale":{"type":"utc","domain":[{"year":2014,"month":8,"date":10,"utc":true},{"year":2023,"month":5,"date":20,"utc":true}]},"axis":{"tickCount":{"interval":"month","step":3},"labelExpr":"utcmonth(datum.value) % 6 == 0 ? utcFormat(datum.value, '%Y-%m-%d') : ''","labelAngle":-35,"labelAlign":"right","labelBaseline":"top","labelFontSize":5,"labelOverlap":false,"labelFlush":false,"labelBound":false,"labelPadding":1,"gridWidth":{"condition":{"test":"utcmonth(datum.value) % 6 == 0","value":0.6},"value":0.35},"tickOpacity":{"condition":{"test":"utcmonth(datum.value) % 6 == 0","value":1},"value":0}}}},
"layer":[
{"data":{"name":"p4"},"transform":[{"fold":["A","X","H"],"as":["d","v"]}],"mark":{"type":"line","strokeWidth":0.8,"opacity":0.45},
"encoding":{"y":{"field":"v","type":"quantitative","title":"Number of patients","scale":{"domain":[438200,1596700],"nice":false,"zero":false},"axis":{"values":[500000,625000,750000,875000,1000000,1125000,1250000,1375000,1500000],"tickCount":100,"format":"d","labelOverlap":false,"labelExpr":"datum.value % 250000 == 0 ? datum.label : ''","gridWidth":{"condition":{"test":"datum.value % 250000 == 0","value":0.6},"value":0.35},"tickOpacity":{"condition":{"test":"datum.value % 250000 == 0","value":1},"value":0}}},"color":{"field":"d","type":"nominal","scale":{"domain":["A","X","H","L"]}}}},
{"data":{"name":"tr"},"transform":[{"filter":"datum.g == '51-75'"}],"mark":{"type":"line","strokeWidth":1.6,"interpolate":"monotone"},
"encoding":{"y":{"field":"v","type":"quantitative","title":"Number of patients"},"color":{"field":"d","type":"nominal","scale":{"domain":["A","X","H","L"]}},"strokeDash":{"field":"s","type":"nominal","scale":{"domain":["pre","post","cf"],"range":[[1,0],[1,0],[4,3]]},"legend":null}}},
{"data":{"name":"ld"},"mark":{"type":"rule","color":"#ee6a94","strokeWidth":1}}]}]}]},
{"hconcat":[
{"title":{"text":"> 75","frame":"group","anchor":"start"},"width":280,"height":152,
"encoding":{"x":{"field":"t","type":"temporal","title":null,"scale":{"type":"utc","domain":[{"year":2014,"month":8,"date":10,"utc":true},{"year":2023,"month":5,"date":20,"utc":true}]},"axis":{"tickCount":{"interval":"month","step":3},"labelExpr":"utcmonth(datum.value) % 6 == 0 ? utcFormat(datum.value, '%Y-%m-%d') : ''","labelAngle":-35,"labelAlign":"right","labelBaseline":"top","labelFontSize":5,"labelOverlap":false,"labelFlush":false,"labelBound":false,"labelPadding":1,"gridWidth":{"condition":{"test":"utcmonth(datum.value) % 6 == 0","value":0.6},"value":0.35},"tickOpacity":{"condition":{"test":"utcmonth(datum.value) % 6 == 0","value":1},"value":0}}}},
"layer":[
{"data":{"name":"p5"},"transform":[{"fold":["A","X","H"],"as":["d","v"]}],"mark":{"type":"line","strokeWidth":0.8,"opacity":0.45},
"encoding":{"y":{"field":"v","type":"quantitative","title":"Number of patients","scale":{"domain":[245600,897500],"nice":false,"zero":false},"axis":{"values":[300000,350000,400000,450000,500000,550000,600000,650000,700000,750000,800000,850000],"tickCount":100,"format":"d","labelOverlap":false,"labelExpr":"datum.value % 100000 == 0 ? datum.label : ''","gridWidth":{"condition":{"test":"datum.value % 100000 == 0","value":0.6},"value":0.35},"tickOpacity":{"condition":{"test":"datum.value % 100000 == 0","value":1},"value":0}}},"color":{"field":"d","type":"nominal","scale":{"domain":["A","X","H","L"]}}}},
{"data":{"name":"tr"},"transform":[{"filter":"datum.g == '> 75'"}],"mark":{"type":"line","strokeWidth":1.6,"interpolate":"monotone"},
"encoding":{"y":{"field":"v","type":"quantitative","title":"Number of patients"},"color":{"field":"d","type":"nominal","scale":{"domain":["A","X","H","L"]}},"strokeDash":{"field":"s","type":"nominal","scale":{"domain":["pre","post","cf"],"range":[[1,0],[1,0],[4,3]]},"legend":null}}},
{"data":{"name":"ld"},"mark":{"type":"rule","color":"#ee6a94","strokeWidth":1}}]}]}]}
